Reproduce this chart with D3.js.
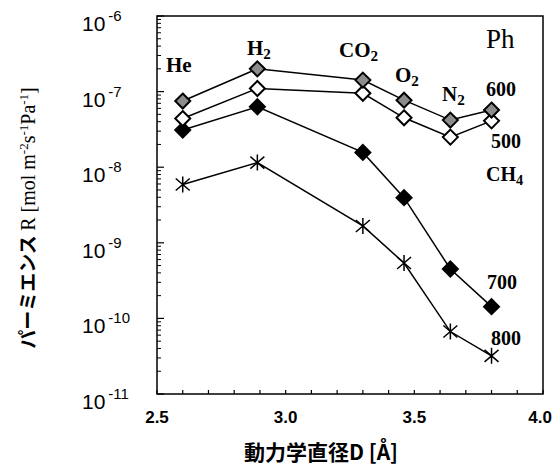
<!DOCTYPE html>
<html>
<head>
<meta charset="utf-8">
<script src="https://cdn.jsdelivr.net/npm/d3@7"></script>
<style>
  body { margin: 0; background: #fff; }
  svg { display: block; }
</style>
</head>
<body>
<div id="chart"></div>
<script>
// Kinetic diameters [Å] for each gas
const gases = ["He", "H2", "CO2", "O2", "N2", "CH4"];
const diameters = [2.6, 2.89, 3.3, 3.46, 3.64, 3.8];

// Permeance per firing temperature
const perm600 = [7.5e-8, 2.0e-7, 1.42e-7, 7.7e-8, 4.2e-8, 5.7e-8];
const perm500 = [4.4e-8, 1.1e-7, 9.5e-8, 4.5e-8, 2.5e-8, 4.1e-8];
const perm700 = [3.1e-8, 6.3e-8, 1.57e-8, 3.95e-9, 4.5e-10, 1.43e-10];
const perm800 = [5.9e-9, 1.15e-8, 1.67e-9, 5.4e-10, 6.7e-11, 3.2e-11];

const xTicks = [2.5, 3.0, 3.5, 4.0];
const yExponents = [-6, -7, -8, -9, -10, -11];

const width = 553, height = 470;
const margin = { top: 16, right: 10, bottom: 76, left: 157 };
const w = width - margin.left - margin.right;
const h = height - margin.top - margin.bottom;

const svg = d3.select("#chart").append("svg")
    .attr("width", width)
    .attr("height", height);

const g = svg.append("g")
    .attr("transform", `translate(${margin.left},${margin.top})`);

const x = d3.scaleLinear().domain([2.5, 4.0]).range([0, w]);
const y = d3.scaleLog().domain([1e-11, 1e-6]).range([h, 0]);

// frame
g.append("rect")
    .attr("width", w).attr("height", h)
    .attr("fill", "none").attr("stroke", "#000").attr("stroke-width", 1.5);

// x ticks: every 0.1, pointing inward
const xMinor = d3.range(25, 41).map(d => d / 10);
g.append("g").selectAll("line").data(xMinor).enter().append("line")
    .attr("x1", d => x(d)).attr("x2", d => x(d))
    .attr("y1", h).attr("y2", h - 4)
    .attr("stroke", "#000").attr("stroke-width", 1.2);

// last label sits against the page edge, so anchor it at its end
g.append("g").selectAll("text").data(xTicks).enter().append("text")
    .attr("x", (d, i) => i === xTicks.length - 1 ? width - margin.left - 1 : x(d))
    .attr("y", h + 29)
    .attr("text-anchor", (d, i) => i === xTicks.length - 1 ? "end" : "middle")
    .style("font-family", "'Liberation Sans', Arial, sans-serif")
    .style("font-weight", "bold").style("font-size", "17px")
    .text(d => d.toFixed(1));

// y ticks: decades + minor, pointing inward
const yMinor = [];
for (let e = -11; e < -6; e++) {
    for (let m = 2; m <= 9; m++) yMinor.push(m * Math.pow(10, e));
}
g.append("g").selectAll("line").data(yMinor).enter().append("line")
    .attr("x1", 0).attr("x2", 4)
    .attr("y1", d => y(d)).attr("y2", d => y(d))
    .attr("stroke", "#000").attr("stroke-width", 1);
g.append("g").selectAll("line").data(yExponents).enter().append("line")
    .attr("x1", 0).attr("x2", 7)
    .attr("y1", d => y(Math.pow(10, d))).attr("y2", d => y(Math.pow(10, d)))
    .attr("stroke", "#000").attr("stroke-width", 1.2);

const yLab = g.append("g").selectAll("text").data(yExponents).enter().append("text")
    .attr("x", 82 - margin.left)
    .attr("y", d => y(Math.pow(10, d)) + 15)
    .style("font-family", "'Liberation Sans', Arial, sans-serif")
    .style("font-size", "21px");
yLab.append("tspan").text("10");
yLab.append("tspan")
    .attr("dx", 3).attr("dy", -10)
    .style("font-size", "15px")
    .text(d => "-" + Math.abs(d));

// series
const series = [
    { values: perm700, fill: "#000", shape: "diamond" },
    { values: perm500, fill: "#fff", shape: "diamond" },
    { values: perm600, fill: "#8c8c8c", shape: "diamond" },
    { values: perm800, fill: "none", shape: "star" }
];

const line = d3.line()
    .x(d => x(d[0]))
    .y(d => y(d[1]));

series.forEach(s => {
    const pts = diameters.map((d, i) => [d, s.values[i]]);
    g.append("path")
        .datum(pts)
        .attr("d", line)
        .attr("fill", "none")
        .attr("stroke", "#000")
        .attr("stroke-width", 1.5);
});

const diamond = "M0,-7.5L7.5,0L0,7.5L-7.5,0Z";
const star = "M0,-8L0,8M-7,-6L7,6M-7,6L7,-6";

series.forEach(s => {
    const pts = diameters.map((d, i) => [d, s.values[i]]);
    g.append("g").selectAll("path").data(pts).enter().append("path")
        .attr("transform", d => `translate(${x(d[0])},${y(d[1])})`)
        .attr("d", s.shape === "diamond" ? diamond : star)
        .attr("fill", s.fill)
        .attr("stroke", "#000")
        .attr("stroke-width", s.shape === "diamond" ? 2 : 1.5);
});

// annotations
const serif = "'Liberation Serif', 'DejaVu Serif', serif";
function label(px, py, main, sub, size, bold) {
    const t = svg.append("text")
        .attr("x", px).attr("y", py)
        .style("font-family", serif)
        .style("font-size", size + "px")
        .style("font-weight", bold ? "bold" : "normal");
    t.append("tspan").text(main);
    if (sub) {
        t.append("tspan").attr("dy", 4)
            .style("font-size", (size * 0.72) + "px").text(sub);
    }
}
label(166, 72, "He", null, 21, true);
label(247, 55, "H", "2", 21, true);
label(339, 57, "CO", "2", 21, true);
label(395, 82, "O", "2", 21, true);
label(442, 101, "N", "2", 21, true);
label(486, 48, "Ph", null, 27, false);
label(486, 96, "600", null, 20, true);
label(491, 148, "500", null, 20, true);
label(486, 181, "CH", "4", 20, true);
label(487, 289, "700", null, 20, true);
label(491, 345, "800", null, 20, true);

// axis titles
svg.append("text")
    .attr("x", 321).attr("y", 460)
    .attr("text-anchor", "middle")
    .style("font-family", "'Noto Sans CJK JP', sans-serif")
    .style("font-weight", "bold").style("font-size", "21px")
    .text("動力学直径D [Å]");

const yt = svg.append("text")
    .attr("transform", "translate(35,218) rotate(-90)")
    .attr("text-anchor", "middle")
    .style("font-size", "19px");
yt.append("tspan")
    .style("font-family", "'Noto Sans CJK JP', sans-serif")
    .style("font-weight", "bold")
    .text("パーミエンス ");
const yt2 = yt.append("tspan").style("font-family", serif).style("font-size", "20px");
yt2.append("tspan").text("R [mol m");
yt2.append("tspan").attr("dy", -7).style("font-size", "13px").text("-2");
yt2.append("tspan").attr("dy", 7).text("s");
yt2.append("tspan").attr("dy", -7).style("font-size", "13px").text("-1");
yt2.append("tspan").attr("dy", 7).text("Pa");
yt2.append("tspan").attr("dy", -7).style("font-size", "13px").text("-1");
yt2.append("tspan").attr("dy", 7).text("]");
</script>
</body>
</html>
